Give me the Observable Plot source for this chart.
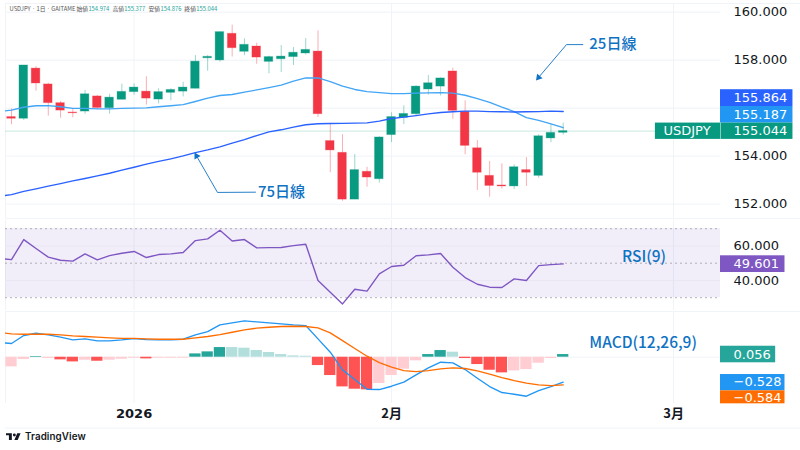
<!DOCTYPE html>
<html lang="ja">
<head>
<meta charset="utf-8">
<script src="https://cdn.jsdelivr.net/npm/d3@7"></script>
<script src="https://cdn.jsdelivr.net/npm/@observablehq/plot@0.6"></script>
<style>
html,body{margin:0;padding:0;background:#fff;width:800px;height:450px;overflow:hidden}
#chart{position:relative;width:800px;height:450px}
#chart svg{display:block;background:transparent}
#logo{position:absolute;left:6px;top:431px;display:flex;align-items:center;gap:4px;font:600 9.8px Inter,"Noto Sans",sans-serif;color:#131722;letter-spacing:.1px}
</style>
</head>
<body>
<div id="chart"></div>
<script>
const opens  = [155.63,155.56,157.65,156.99,156.21,155.82,155.86,156.49,156.00,156.35,156.67,156.69,156.36,156.64,156.69,156.81,158.08,157.99,159.10,158.35,158.57,157.93,158.04,158.13,158.28,158.36,154.63,154.14,152.19,153.35,153.04,154.88,155.60,155.75,156.78,156.90,157.53,155.85,154.33,153.18,152.78,152.74,153.42,153.18,154.74,154.974];
const highs  = [155.97,157.78,157.74,157.04,156.28,155.97,156.74,156.53,156.58,157.00,157.01,157.31,156.81,156.81,157.08,158.19,158.19,159.17,159.46,158.89,158.71,158.17,158.61,158.53,158.90,159.22,155.35,154.90,154.07,153.54,154.81,155.81,156.10,156.94,157.36,157.26,157.67,156.31,154.65,153.78,153.68,153.64,153.94,154.89,155.32,155.377];
const lows   = [155.31,155.49,156.71,155.67,155.58,155.60,155.75,155.94,155.75,156.35,156.54,156.13,156.18,156.31,156.47,156.81,157.54,157.92,158.13,158.19,157.83,157.43,157.49,157.78,158.22,155.61,153.31,152.12,152.19,152.71,152.88,154.57,155.32,155.69,156.54,156.51,155.54,154.06,152.57,152.29,152.63,152.61,152.74,153.08,154.56,154.876];
const closes = [155.56,157.78,157.03,156.21,155.90,155.79,156.58,156.01,156.44,156.68,156.86,156.40,156.67,156.76,156.86,157.94,158.14,159.17,158.50,158.64,158.11,158.13,158.15,158.31,158.43,155.75,154.24,152.19,153.42,153.11,154.78,155.63,155.76,156.90,157.04,157.24,155.89,154.43,153.31,152.76,152.74,153.54,153.31,154.83,154.97,155.044];
// Moving averages and oscillator lines start one session before the first candle (clipped at the pane edge)
const ma25 = [155.86,155.92,156.04,156.10,156.11,156.06,155.99,155.99,155.97,155.97,155.99,156.00,156.01,156.06,156.10,156.15,156.28,156.42,156.53,156.57,156.67,156.76,156.86,156.96,157.13,157.26,157.26,157.11,156.92,156.78,156.69,156.65,156.61,156.61,156.63,156.64,156.65,156.63,156.54,156.40,156.24,156.04,155.86,155.61,155.49,155.35,155.187];
const ma75 = [152.33,152.40,152.53,152.64,152.75,152.86,152.97,153.07,153.18,153.29,153.42,153.54,153.67,153.78,153.89,154.01,154.15,154.26,154.39,154.54,154.69,154.86,155.01,155.10,155.21,155.31,155.35,155.36,155.37,155.38,155.39,155.46,155.57,155.63,155.69,155.76,155.82,155.85,155.88,155.88,155.86,155.85,155.84,155.85,155.86,155.88,155.864];
const rsi  = [52.7,52.1,63.7,58.5,53.5,51.7,51.2,55.4,51.9,54.4,55.8,56.8,53.3,55.0,55.4,56.2,63.1,64.1,69.1,62.9,63.7,58.9,59.0,59.1,60.2,61.0,40.0,33.2,26.4,34.9,33.8,43.8,48.1,48.8,54.3,54.8,55.6,47.7,41.7,37.8,36.1,35.9,40.9,40.0,48.6,49.2,49.601];
const macd = [0.310,0.289,0.458,0.507,0.472,0.423,0.366,0.387,0.345,0.345,0.366,0.394,0.373,0.366,0.366,0.380,0.472,0.542,0.683,0.725,0.768,0.746,0.725,0.704,0.683,0.669,0.387,0.106,-0.268,-0.472,-0.676,-0.683,-0.613,-0.528,-0.373,-0.225,-0.106,-0.120,-0.261,-0.444,-0.620,-0.746,-0.782,-0.824,-0.704,-0.620,-0.528];
const signal = [0.521,0.493,0.486,0.486,0.486,0.472,0.451,0.437,0.423,0.408,0.398,0.398,0.387,0.380,0.380,0.380,0.408,0.437,0.479,0.528,0.577,0.613,0.634,0.648,0.655,0.648,0.620,0.514,0.352,0.183,0.021,-0.113,-0.211,-0.282,-0.303,-0.282,-0.246,-0.225,-0.239,-0.289,-0.359,-0.430,-0.493,-0.549,-0.585,-0.599,-0.584];
const hist = [-0.204,-0.049,0.014,-0.028,-0.056,-0.099,-0.063,-0.085,-0.063,-0.042,-0.021,-0.035,-0.021,-0.021,-0.021,0.070,0.113,0.204,0.204,0.190,0.141,0.099,0.056,0.028,0.021,-0.176,-0.387,-0.627,-0.676,-0.690,-0.556,-0.387,-0.254,-0.077,0.056,0.141,0.106,-0.028,-0.155,-0.275,-0.331,-0.289,-0.261,-0.127,-0.028,0.056];
const histStrong = [0,0,1,0,1,1,0,1,0,0,0,1,0,0,0,1,1,1,0,0,0,0,0,0,0,1,1,1,1,1,0,0,0,0,1,1,0,1,1,1,1,0,0,0,0,1];

const priceGrid = [152,154,156,158,160];
const priceTicks = [152,154,158,160];
const rsiTicks = [40,60];
const rsiBands = [30,50,70];
const timeTicks = [10,31,54];
const timeLabels = ["2026","2月","3月"];
const call25 = [{i:46.6,p:158.65},{i:45.27,p:158.65},{i:42.99,p:157.28}];
const call75 = [{i:19.9,p:152.5},{i:16.8,p:152.49},{i:15.09,p:154.01}];
const priceTags = [
  {label:"155.864",fill:"#2962ff",y1:156.77,y2:156.07,yc:156.42},
  {label:"155.187",fill:"#2196f3",y1:156.07,y2:155.38,yc:155.72},
  {label:"155.044",fill:"#089981",y1:155.38,y2:154.70,yc:155.04}
];
const macdTags = [
  {label:"0.056",fill:"#26a69a",right:62.33,y1:0.232,y2:-0.118,yc:0.056},
  {label:"−0.528",fill:"#2196f3",right:63.09,y1:-0.366,y2:-0.710,yc:-0.528},
  {label:"−0.584",fill:"#ff6d00",right:63.09,y1:-0.710,y2:-0.985,yc:-0.855}
];
const legendBits = [
  {t:"USDJPY · 1日 · GAITAME",i:-0.16,c:"#555"},
  {t:"始値",i:5.3,c:"#555"},{t:"154.974",i:6.27,c:"#26a69a"},
  {t:"高値",i:8.24,c:"#555"},{t:"155.377",i:9.2,c:"#26a69a"},
  {t:"安値",i:11.17,c:"#555"},{t:"154.876",i:12.15,c:"#26a69a"},
  {t:"終値",i:14.1,c:"#555"},{t:"155.044",i:15.07,c:"#26a69a"}
];

const candles = opens.map((o,i)=>({i,o,h:highs[i],l:lows[i],c:closes[i],col:closes[i]>=o?"#089981":"#f23645"}));
const lineOf = a => a.map((v,k)=>({i:k-1,v}));
const histRows = hist.map((v,i)=>({i,v,fill:v>=0?(histStrong[i]?"#26a69a":"#b2dfdb"):(histStrong[i]?"#ff5252":"#ffcdd2")}));

const F = '"DejaVu Sans","Noto Sans CJK JP",sans-serif';
const CJK = '"Noto Sans CJK JP","Noto Sans",sans-serif';
const GRID = "#f0f3f8";
const INK = "#131722";
const NOTE = "#0f72c3";
const xScale = {type:"linear",domain:[-0.49,57.83],range:[5,720],axis:null};
const TEXTX = 58.89, TAGL = 57.83, TAGR = 63.74;
const base = {width:800,marginLeft:5,marginRight:80,x:xScale,style:{background:"transparent",fontFamily:F}};
const vGrid = Plot.gridX(timeTicks,{stroke:GRID,strokeOpacity:1});
const edge = Plot.ruleX([-0.49],{stroke:GRID});

const pricePane = Plot.plot({...base,height:220,marginTop:3,marginBottom:2,
  y:{domain:[160.4875,151.32],range:[0,220],axis:null},
  marks:[
    edge,vGrid,
    Plot.gridY(priceGrid,{stroke:GRID,strokeOpacity:1}),
    Plot.ruleY([160.36,151.4],{x1:-0.49,x2:64.6,stroke:GRID}),
    Plot.ruleY([155.044],{x1:-0.49,x2:TAGL,stroke:"#089981",strokeOpacity:.22}),
    Plot.ruleX(candles,{x:"i",y1:"l",y2:"h",stroke:"col",strokeOpacity:.4,strokeWidth:1}),
    Plot.rect(candles,{x1:d=>d.i-.35,x2:d=>d.i+.35,y1:"o",y2:"c",fill:"col",stroke:"col",strokeOpacity:.3,strokeWidth:1}),
    Plot.lineY(lineOf(ma25),{x:"i",y:"v",stroke:"#42a5f5",strokeWidth:1.35,clip:true}),
    Plot.lineY(lineOf(ma75),{x:"i",y:"v",stroke:"#2962ff",strokeWidth:1.35,clip:true}),
    Plot.line(call25,{x:"i",y:"p",stroke:NOTE,strokeWidth:.9}),
    Plot.line(call75,{x:"i",y:"p",stroke:NOTE,strokeWidth:.9}),
    Plot.dot([call25[2]],{x:"i",y:"p",symbol:"triangle",r:2.6,fill:NOTE,rotate:-140}),
    Plot.dot([call75[2]],{x:"i",y:"p",symbol:"triangle",r:2.6,fill:NOTE,rotate:-30}),
    Plot.text(["25日線"],{x:[47.13],y:[158.65],text:d=>d,textAnchor:"start",fill:NOTE,fontSize:15,fontWeight:500,fontFamily:CJK}),
    Plot.text(["75日線"],{x:[20.1],y:[152.5],text:d=>d,textAnchor:"start",fill:NOTE,fontSize:15,fontWeight:500,fontFamily:CJK}),
    Plot.text(legendBits,{x:"i",y:()=>160.13,text:"t",fill:"c",textAnchor:"start",fontSize:5.8,fontFamily:CJK}),
    Plot.axisY({anchor:"right",ticks:priceTicks,tickFormat:d=>d.toFixed(3),tickSize:0,tickPadding:13,fontSize:13,label:null,color:INK}),
    Plot.rect(priceTags,{x1:TAGL,x2:TAGR,y1:"y1",y2:"y2",fill:"fill"}),
    Plot.rect(["USDJPY"],{x1:52.52,x2:TAGL,y1:155.38,y2:154.70,fill:"#089981"}),
    Plot.ruleX([TAGL],{y1:155.38,y2:154.70,stroke:"#fff",strokeOpacity:.5}),
    Plot.text(priceTags,{x:TEXTX,y:"yc",text:"label",textAnchor:"start",fill:"#fff",fontSize:13}),
    Plot.text(["USDJPY"],{x:[53.18],y:[155.04],text:d=>d,textAnchor:"start",fill:"#fff",fontSize:13})
  ]});

const rsiPane = Plot.plot({...base,height:90,marginTop:0,marginBottom:0,
  y:{domain:[74.75,22.58],range:[0,90],axis:null},
  marks:[
    edge,vGrid,
    Plot.rect([rsiBands],{x1:-0.49,x2:TAGL,y1:30,y2:70,fill:"#7e57c2",fillOpacity:.1}),
    Plot.gridY(rsiTicks,{stroke:"#e9e6f3",strokeOpacity:1}),
    Plot.ruleY(rsiBands,{x1:-0.49,x2:TAGL,stroke:"#8a8794",strokeOpacity:.65,strokeDasharray:"2 3",strokeWidth:1}),
    Plot.lineY(lineOf(rsi),{x:"i",y:"v",stroke:"#7e57c2",strokeWidth:1.4,clip:true}),
    Plot.text(["RSI(9)"],{x:[49.8],y:[53.8],text:d=>d,textAnchor:"start",fill:NOTE,fontSize:15.5,fontWeight:500,fontFamily:CJK}),
    Plot.axisY({anchor:"right",ticks:rsiTicks,tickSize:0,tickPadding:13,tickFormat:d=>d.toFixed(3),fontSize:13,label:null,color:INK}),
    Plot.rect(["rsiTag"],{x1:TAGL,x2:63.09,y1:54.29,y2:44.6,fill:"#7e57c2"}),
    Plot.text(["49.601"],{x:[TEXTX],y:[49.4],text:d=>d,textAnchor:"start",fill:"#fff",fontSize:13})
  ]});

const macdPane = Plot.plot({...base,height:140,marginTop:1,marginBottom:47,
  x:{...xScale,axis:undefined},
  y:{domain:[0.987,-1.971],range:[0,140],axis:null},
  marks:[
    edge,vGrid,
    Plot.gridY([0],{stroke:GRID,strokeOpacity:1}),
    Plot.ruleY([0.966,-1.497],{x1:-0.49,x2:64.6,stroke:GRID}),
    Plot.rect(histRows,{x1:d=>d.i-.46,x2:d=>d.i+.46,y1:0,y2:"v",fill:"fill",clip:true}),
    Plot.lineY(lineOf(macd),{x:"i",y:"v",stroke:"#2196f3",strokeWidth:1.35,clip:true}),
    Plot.lineY(lineOf(signal),{x:"i",y:"v",stroke:"#ff6d00",strokeWidth:1.35,clip:true}),
    Plot.text(["MACD(12,26,9)"],{x:[47.13],y:[0.3],text:d=>d,textAnchor:"start",fill:NOTE,fontSize:15.5,fontWeight:500,fontFamily:CJK}),
    Plot.rect(macdTags,{x1:TAGL,x2:"right",y1:"y1",y2:"y2",fill:"fill"}),
    Plot.text(macdTags,{x:TEXTX,y:"yc",text:"label",textAnchor:"start",fill:"#fff",fontSize:13}),
    Plot.axisX({ticks:timeTicks.slice(0,1),tickFormat:()=>timeLabels[0],tickSize:0,tickPadding:5,fontSize:13,fontWeight:"bold",label:null,color:INK}),
    Plot.axisX({ticks:timeTicks.slice(1),tickFormat:d=>timeLabels[timeTicks.indexOf(d)],tickSize:0,tickPadding:5,fontSize:13,fontWeight:600,fontFamily:CJK,label:null,color:INK})
  ]});

const root = document.getElementById("chart");
root.append(pricePane,rsiPane,macdPane);
const logo = document.createElement("div");
logo.id = "logo";
logo.innerHTML = '<svg width="15" height="8" viewBox="0 0 36 18" aria-hidden="true"><path d="M14 16H7V5H0V0h14zM28 16h-8L27 0h8z" fill="#131722"/><circle cx="20" cy="4" r="3.5" fill="#131722"/></svg><span>TradingView</span>';
root.append(logo);
</script>
</body>
</html>
